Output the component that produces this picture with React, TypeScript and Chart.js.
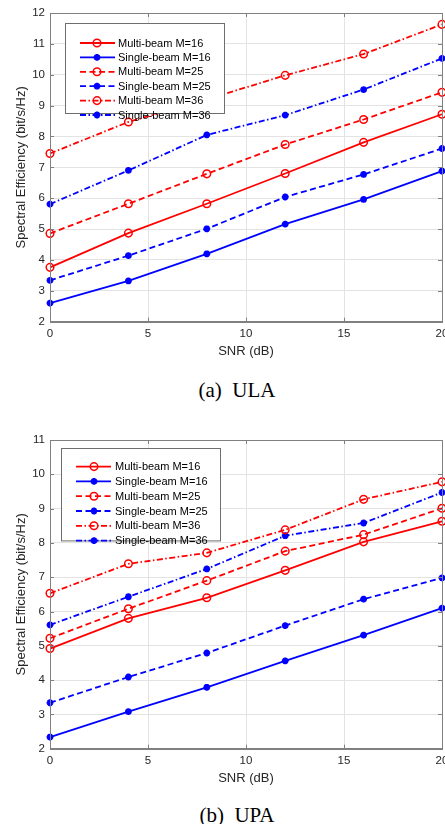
import React, { useEffect, useRef } from "react";
import { Chart, registerables } from "chart.js";

Chart.register(...registerables);

// ---------- data ----------
const snrDb = [0, 4, 8, 12, 16, 20];
const xTickStep = 5;
const seriesLabels = [
  "Multi-beam M=16",
  "Single-beam M=16",
  "Multi-beam M=25",
  "Single-beam M=25",
  "Multi-beam M=36",
  "Single-beam M=36",
];

// (a) ULA
const ulaMulti16 = [3.76, 4.87, 5.82, 6.8, 7.81, 8.72];
const ulaSingle16 = [2.6, 3.32, 4.2, 5.16, 5.96, 6.88];
const ulaMulti25 = [4.86, 5.82, 6.79, 7.74, 8.55, 9.43];
const ulaSingle25 = [3.34, 4.14, 5.01, 6.04, 6.77, 7.61];
const ulaMulti36 = [7.45, 8.47, 9.2, 9.98, 10.67, 11.63];
const ulaSingle36 = [5.81, 6.9, 8.05, 8.69, 9.52, 10.53];

// (b) UPA
const upaMulti16 = [4.92, 5.8, 6.4, 7.2, 8.03, 8.63];
const upaSingle16 = [2.34, 3.08, 3.79, 4.56, 5.31, 6.1];
const upaMulti25 = [5.22, 6.08, 6.9, 7.76, 8.24, 9.01];
const upaSingle25 = [3.34, 4.09, 4.79, 5.59, 6.36, 6.98];
const upaMulti36 = [6.53, 7.39, 7.71, 8.38, 9.27, 9.78];
const upaSingle36 = [5.61, 6.43, 7.24, 8.21, 8.58, 9.47];

const ulaSeries = [ulaMulti16, ulaSingle16, ulaMulti25, ulaSingle25, ulaMulti36, ulaSingle36];
const upaSeries = [upaMulti16, upaSingle16, upaMulti25, upaSingle25, upaMulti36, upaSingle36];

// ---------- styles ----------
const RED = "#ff0000";
const BLUE = "#0000ff";
const GRID = "#e3e3e3";
const AXIS = "#808080";
const TEXT = "#262626";
const SANS = "'Liberation Sans', Arial, Helvetica, sans-serif";
const DASHES: number[][] = [[], [6, 3.5], [6, 2.5, 1.5, 2.5]];

function drawMarker(ctx: CanvasRenderingContext2D, style: string, x: number, y: number, r: number, color: string, bw: number) {
  ctx.save();
  ctx.setLineDash([]);
  ctx.strokeStyle = color;
  ctx.lineWidth = bw;
  ctx.beginPath();
  if (style === "circle") {
    ctx.arc(x, y, r, 0, Math.PI * 2);
  } else {
    ctx.moveTo(x - r, y); ctx.lineTo(x + r, y);
    ctx.moveTo(x, y - r); ctx.lineTo(x, y + r);
    const d = r * Math.SQRT1_2;
    ctx.moveTo(x - d, y - d); ctx.lineTo(x + d, y + d);
    ctx.moveTo(x - d, y + d); ctx.lineTo(x + d, y - d);
  }
  ctx.stroke();
  ctx.restore();
}

const framePlugin = {
  id: "frame",
  afterDraw(chart: any, _args: any, opts: any) {
    const ctx: CanvasRenderingContext2D = chart.ctx;
    const a = chart.chartArea;
    ctx.save();
    // box
    ctx.strokeStyle = AXIS;
    ctx.lineWidth = 1;
    ctx.strokeRect(Math.round(a.left) + 0.5, Math.round(a.top) + 0.5, Math.round(a.right - a.left), Math.round(a.bottom - a.top));
    // inward ticks
    const tl = 4;
    ctx.beginPath();
    chart.scales.x.ticks.forEach((t: any) => {
      const px = Math.round(chart.scales.x.getPixelForValue(t.value)) + 0.5;
      ctx.moveTo(px, a.bottom); ctx.lineTo(px, a.bottom - tl);
      ctx.moveTo(px, a.top); ctx.lineTo(px, a.top + tl);
    });
    chart.scales.y.ticks.forEach((t: any) => {
      const py = Math.round(chart.scales.y.getPixelForValue(t.value)) + 0.5;
      ctx.moveTo(a.left, py); ctx.lineTo(a.left + tl, py);
      ctx.moveTo(a.right, py); ctx.lineTo(a.right - tl, py);
    });
    ctx.stroke();

    // legend
    const L = opts;
    const bx = a.left + L.bx, by = a.top + L.by;
    ctx.fillStyle = "#ffffff";
    ctx.fillRect(bx, by, L.bw, L.bh);
    ctx.strokeStyle = "#6e6e6e";
    ctx.lineWidth = 1;
    ctx.strokeRect(Math.round(bx) + 0.5, Math.round(by) + 0.5, L.bw, L.bh);
    ctx.font = `11px ${SANS}`;
    ctx.textBaseline = "middle";
    ctx.textAlign = "left";
    chart.data.datasets.forEach((ds: any, i: number) => {
      const y = by + L.row0 + i * L.rowH;
      ctx.save();
      ctx.strokeStyle = ds.borderColor;
      ctx.lineWidth = ds.borderWidth;
      ctx.setLineDash(ds.borderDash || []);
      ctx.beginPath();
      ctx.moveTo(a.left + L.lx1, y);
      ctx.lineTo(a.left + L.lx2, y);
      ctx.stroke();
      ctx.restore();
      drawMarker(ctx, ds.pointStyle, a.left + L.mx, y, ds.pointRadius, ds.pointBorderColor, ds.pointBorderWidth);
      ctx.fillStyle = "#000000";
      ctx.fillText(seriesLabels[i], a.left + L.tx, y + 0.5);
    });
    ctx.restore();
  },
};

type LegendCfg = { bx: number; by: number; bw: number; bh: number; row0: number; rowH: number; lx1: number; lx2: number; mx: number; tx: number };

function SEChart({ series, yMin, yMax, legend }: { series: number[][]; yMin: number; yMax: number; legend: LegendCfg }) {
  const ref = useRef<HTMLCanvasElement>(null);
  useEffect(() => {
    const datasets = series.map((vals, i) => {
      const multi = i % 2 === 0;
      const color = multi ? RED : BLUE;
      return {
        label: seriesLabels[i],
        data: snrDb.map((x, k) => ({ x, y: vals[k] })),
        borderColor: color,
        borderWidth: 1.8,
        borderDash: DASHES[Math.floor(i / 2)],
        pointStyle: multi ? "circle" : "star",
        pointRadius: multi ? 3.8 : 3.4,
        pointBorderWidth: multi ? 1.5 : 2.2,
        pointBorderColor: color,
        pointBackgroundColor: multi ? "rgba(0,0,0,0)" : color,
        fill: false,
        tension: 0,
        clip: false as any,
      };
    });
    const tickFont = { family: SANS, size: 11.5 };
    const titleFont = { family: SANS, size: 13 };
    const chart = new Chart(ref.current!, {
      type: "line",
      data: { datasets: datasets as any },
      options: {
        animation: false,
        responsive: false,
        maintainAspectRatio: false,
        devicePixelRatio: 1,
        layout: { autoPadding: false, padding: { top: 13, right: 3, left: 0, bottom: 0 } },
        plugins: {
          legend: { display: false },
          tooltip: { enabled: false },
          frame: legend,
        } as any,
        scales: {
          x: {
            type: "linear",
            min: 0,
            max: 20,
            ticks: { stepSize: xTickStep, padding: 5, font: tickFont, color: TEXT, maxRotation: 0, autoSkip: false },
            grid: { color: GRID, drawTicks: false, lineWidth: 1 },
            border: { color: AXIS, width: 1 },
            title: { display: true, text: "SNR (dB)", font: titleFont, color: TEXT, padding: { top: 0, bottom: 2.3 } },
            afterFit: (s: any) => {
              s.height = 40.3;
              s.paddingLeft = 0;
              s.paddingRight = 0;
            },
          },
          y: {
            type: "linear",
            min: yMin,
            max: yMax,
            ticks: { stepSize: 1, padding: 5, font: tickFont, color: TEXT },
            grid: { color: GRID, drawTicks: false, lineWidth: 1 },
            border: { color: AXIS, width: 1 },
            title: { display: true, text: "Spectral Efficiency (bit/s/Hz)", font: titleFont, color: TEXT, padding: { top: 14, bottom: 0 } },
            afterFit: (s: any) => {
              s.width = 50;
              s.paddingTop = 0;
              s.paddingBottom = 0;
            },
          },
        },
      } as any,
      plugins: [framePlugin as any],
    });
    return () => chart.destroy();
  }, []);
  return <canvas ref={ref} width={445} height={362} style={{ display: "block", width: 445, height: 362 }} />;
}

const captionStyle: React.CSSProperties = {
  position: "absolute",
  left: 137,
  width: 200,
  textAlign: "center",
  fontFamily: "'Liberation Serif', 'Times New Roman', serif",
  fontSize: 21,
  lineHeight: "24px",
  color: "#000",
  whiteSpace: "pre",
};

export default function App() {
  return (
    <div style={{ position: "absolute", left: 0, top: 0, width: 445, height: 824, background: "#fff", overflow: "hidden" }}>
      <div style={{ position: "absolute", left: 0, top: 0 }}>
        <SEChart
          series={ulaSeries}
          yMin={2}
          yMax={12}
          legend={{ bx: 15, by: 10, bw: 159, bh: 90, row0: 20, rowH: 14.4, lx1: 30, lx2: 65, mx: 47, tx: 68 }}
        />
      </div>
      <div style={{ ...captionStyle, top: 377.5 }}>(a)  ULA</div>
      <div style={{ position: "absolute", left: 0, top: 427 }}>
        <SEChart
          series={upaSeries}
          yMin={2}
          yMax={11}
          legend={{ bx: 11, by: 8.3, bw: 159, bh: 92.4, row0: 18.3, rowH: 14.8, lx1: 26, lx2: 61, mx: 44, tx: 65 }}
        />
      </div>
      <div style={{ ...captionStyle, top: 803 }}>(b)  UPA</div>
    </div>
  );
}
